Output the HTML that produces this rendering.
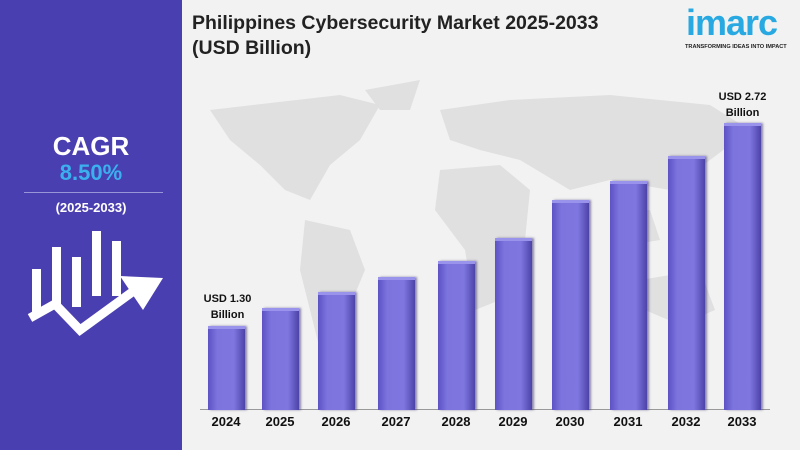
<!DOCTYPE html>
<html><head><style>
body{margin:0;width:800px;height:450px;overflow:hidden;background:#f2f2f2;font-family:"Liberation Sans",sans-serif;position:relative}
.l{position:absolute;left:0;top:0;width:182px;height:450px;background:#4a3fb0}
.t{position:absolute;font-weight:bold}
.bar{position:absolute;width:37px;background:linear-gradient(90deg,#5c52c4 0%,#7d74de 25%,#7f76e0 70%,#4c43a8 100%);border-top:3px solid #9a93ec;box-shadow:2px 0 2px rgba(40,30,100,.5);box-sizing:border-box}
.yr{position:absolute;top:414px;width:60px;text-align:center;font-weight:bold;font-size:13px;color:#111}
</style></head><body>
<svg style="position:absolute;left:190px;top:70px" width="600" height="340">
<g fill="#e0e0e0">
<path d="M20 40 L150 25 L190 35 L170 70 L140 95 L120 130 L95 120 L70 95 L40 70 Z"/>
<path d="M115 150 L160 160 L175 200 L150 260 L135 300 L125 260 L110 200 Z"/>
<path d="M175 20 L230 10 L220 40 L190 40 Z"/>
<path d="M250 40 L320 30 L420 25 L520 35 L560 60 L520 90 L480 120 L420 110 L380 120 L330 90 L290 80 L260 70 Z"/>
<path d="M250 100 L310 95 L340 120 L335 170 L310 230 L285 240 L275 180 L245 140 Z"/>
<path d="M450 210 L510 200 L525 240 L490 255 L455 240 Z"/>
<path d="M420 140 L460 140 L470 170 L440 175 Z"/>
</g></svg>
<div class="l"></div>
<div class="t" style="left:0;width:182px;text-align:center;top:131px;font-size:26px;color:#fff">CAGR</div>
<div class="t" style="left:0;width:182px;text-align:center;top:160px;font-size:22px;color:#3bb0ef">8.50%</div>
<div style="position:absolute;left:24px;top:192px;width:139px;height:1px;background:#9a94d8"></div>
<div class="t" style="left:0;width:182px;text-align:center;top:200px;font-size:13px;color:#fff">(2025-2033)</div>
<svg style="position:absolute;left:25px;top:228px" width="140" height="110">
<g fill="#fff"><rect x="7" y="41" width="9" height="45"/><rect x="27" y="19" width="9" height="60"/><rect x="47" y="29" width="9" height="50"/><rect x="67" y="3" width="9" height="65"/><rect x="87" y="13" width="9" height="55"/></g>
<path d="M5 90 L30 76 L55 102 L110 62" stroke="#fff" stroke-width="9" fill="none"/>
<polygon points="95,48 138,50 118,82" fill="#fff"/>
</svg>
<div class="t" style="left:192px;top:11px;font-size:19.5px;color:#222;line-height:25px">Philippines Cybersecurity Market 2025-2033<br>(USD Billion)</div>
<div class="t" style="left:686px;top:2px;font-size:36px;color:#29a9e1;letter-spacing:-1px">imarc</div>
<div class="t" style="left:685px;top:44px;font-size:5.6px;color:#222;white-space:nowrap">TRANSFORMING IDEAS INTO IMPACT</div>
<div style="position:absolute;left:200px;top:409px;width:570px;height:1px;background:#999"></div>
<div class="bar" style="left:208px;top:326px;height:84px"></div>
<div class="bar" style="left:262px;top:308px;height:102px"></div>
<div class="bar" style="left:318px;top:292px;height:118px"></div>
<div class="bar" style="left:378px;top:277px;height:133px"></div>
<div class="bar" style="left:438px;top:261px;height:149px"></div>
<div class="bar" style="left:495px;top:238px;height:172px"></div>
<div class="bar" style="left:552px;top:200px;height:210px"></div>
<div class="bar" style="left:610px;top:181px;height:229px"></div>
<div class="bar" style="left:668px;top:156px;height:254px"></div>
<div class="bar" style="left:724px;top:123px;height:287px"></div>
<div class="yr" style="left:196px">2024</div><div class="yr" style="left:250px">2025</div><div class="yr" style="left:306px">2026</div><div class="yr" style="left:366px">2027</div><div class="yr" style="left:426px">2028</div><div class="yr" style="left:483px">2029</div><div class="yr" style="left:540px">2030</div><div class="yr" style="left:598px">2031</div><div class="yr" style="left:656px">2032</div><div class="yr" style="left:712px">2033</div>
<div class="t" style="left:190px;width:75px;text-align:center;top:291px;font-size:11px;line-height:16px;color:#111">USD 1.30<br>Billion</div>
<div class="t" style="left:705px;width:75px;text-align:center;top:89px;font-size:11px;line-height:16px;color:#111">USD 2.72<br>Billion</div>
</body></html>
